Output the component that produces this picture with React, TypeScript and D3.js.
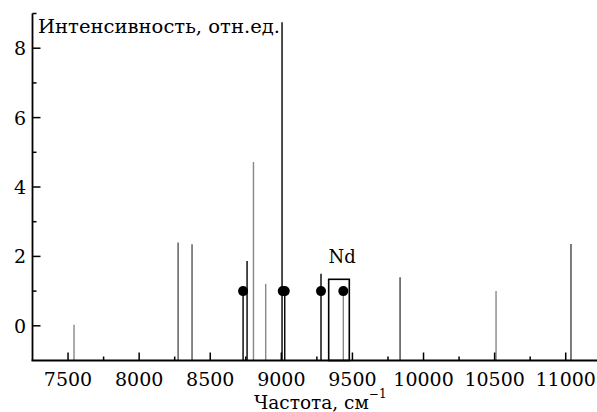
import React from 'react';
import * as d3 from 'd3';

// spectral lines: frequency (cm^-1), intensity (rel. units), shade
const lineFreq = [7542, 8274, 8372, 8731, 8759, 8804, 8890, 9005, 9024, 9279, 9436, 9835, 10510, 11037];
const lineInt = [0.03, 2.4, 2.35, 1.0, 1.87, 4.72, 1.21, 8.75, 1.0, 1.5, 1.0, 1.4, 1.0, 2.36];
const lineShade = ['#888', '#555', '#555', '#000', '#000', '#888', '#888', '#000', '#000', '#000', '#888', '#444', '#888', '#444'];

// marked lines (dots) at intensity 1
const dotFreq = [8731, 9010, 9024, 9279, 9436];
const dotInt = [1, 1, 1, 1, 1];

// Nd box
const ndFreq = [9333, 9478];
const ndTop = 1.34;

const xMajor = [7500, 8000, 8500, 9000, 9500, 10000, 10500, 11000];
const xMinor = [7750, 8250, 8750, 9250, 9750, 10250, 10750];
const yMajor = [0, 2, 4, 6, 8];
const yMinor = [1, 3, 5, 7, 9];

const W = 597;
const H = 412;
const FONT = '"DejaVu Serif", serif';

export default function App() {
  const x = d3.scaleLinear().domain([7250, 11220]).range([32.5, W]);
  const y = d3.scaleLinear().domain([-1, 9]).range([360.5, 13.5]);
  const y0 = y(-1);
  const x0 = x(7250);

  return (
    <svg width={W} height={H} style={{ position: 'absolute', left: 0, top: 0 }} fontFamily={FONT}>
      <rect width={W} height={H} fill="#fff" />

      {/* spectral lines */}
      {lineFreq.map((f, i) => (
        <line key={'l' + i} x1={x(f)} x2={x(f)} y1={y0} y2={y(lineInt[i])}
          stroke={lineShade[i]} strokeWidth={1.4} />
      ))}

      {/* Nd box */}
      <rect x={x(ndFreq[0])} y={y(ndTop)} width={x(ndFreq[1]) - x(ndFreq[0])} height={y0 - y(ndTop)}
        fill="none" stroke="#000" strokeWidth={1.6} />
      <text x={x(9428)} y={263} fontSize={18} textAnchor="middle">Nd</text>

      {/* dots */}
      {dotFreq.map((f, i) => (
        <circle key={'d' + i} cx={x(f)} cy={y(dotInt[i])} r={5} fill="#000" />
      ))}

      {/* y axis */}
      <line x1={x0} x2={x0} y1={y(9)} y2={y0} stroke="#000" strokeWidth={1.8} />
      {yMajor.map(v => (
        <g key={'ym' + v}>
          <line x1={x0} x2={x0 + 8} y1={y(v)} y2={y(v)} stroke="#000" strokeWidth={1.5} />
          <text x={26} y={y(v) + 7} fontSize={19} textAnchor="end">{v}</text>
        </g>
      ))}
      {yMinor.map(v => (
        <line key={'yn' + v} x1={x0} x2={x0 + 4} y1={y(v)} y2={y(v)} stroke="#000" strokeWidth={1.5} />
      ))}

      {/* x axis */}
      <line x1={x0 - 1} x2={W} y1={y0} y2={y0} stroke="#000" strokeWidth={1.8} />
      {xMajor.map(v => (
        <g key={'xm' + v}>
          <line x1={x(v)} x2={x(v)} y1={y0} y2={y0 - 8} stroke="#000" strokeWidth={1.5} />
          <text x={x(v)} y={386} fontSize={19} textAnchor="middle">{v}</text>
        </g>
      ))}
      {xMinor.map(v => (
        <line key={'xn' + v} x1={x(v)} x2={x(v)} y1={y0} y2={y0 - 4} stroke="#000" strokeWidth={1.5} />
      ))}

      {/* axis titles */}
      <text x={38} y={33} fontSize={18.5} textLength={242} lengthAdjust="spacingAndGlyphs">Интенсивность, отн.ед.</text>
      <text x={254} y={409} fontSize={18.5}>
        Частота, см<tspan fontSize={12} dy={-11}>−1</tspan>
      </text>
    </svg>
  );
}
